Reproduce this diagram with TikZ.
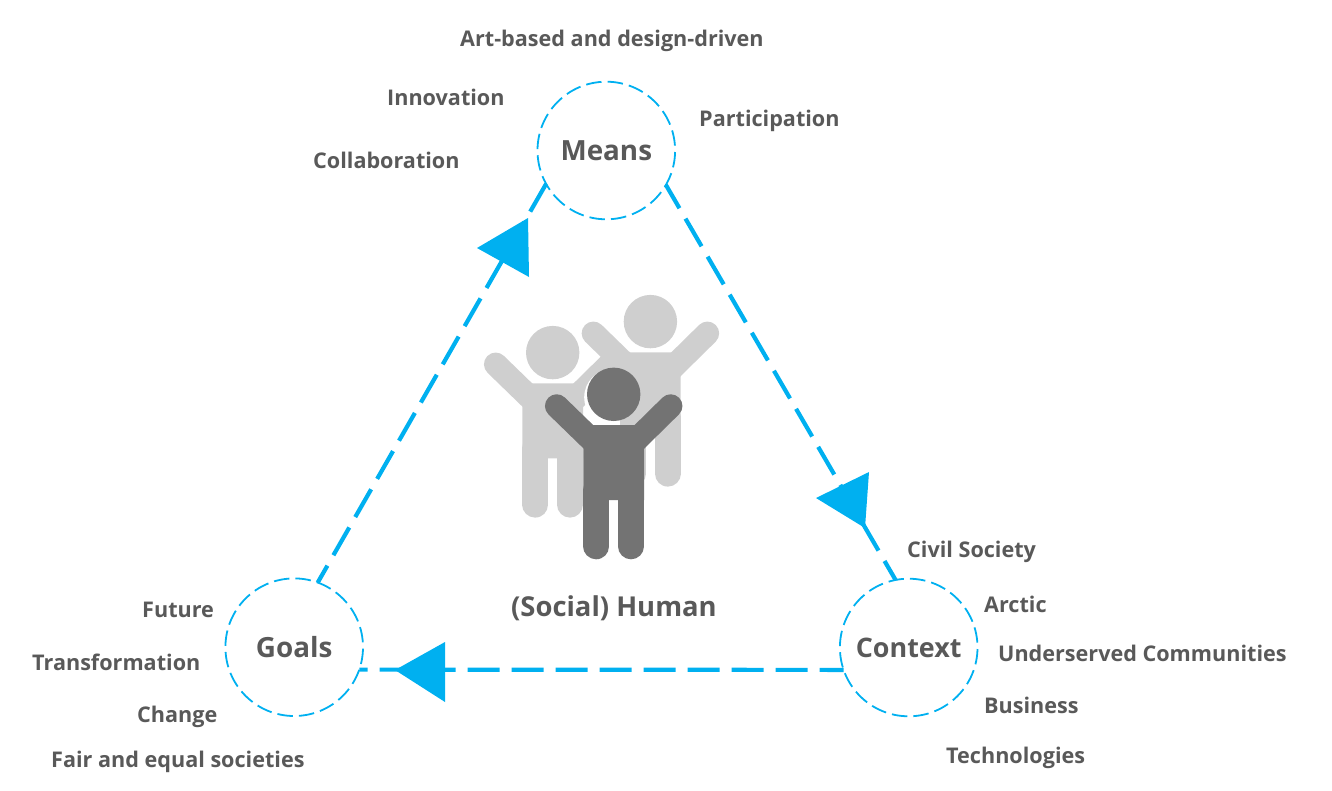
\documentclass[tikz,border=0pt]{standalone}
\usepackage{fontspec}
\setmainfont{Open Sans}
\definecolor{cblue}{HTML}{00B0F0}
\definecolor{ctext}{HTML}{595959}
\definecolor{plight}{HTML}{CFCFCF}
\definecolor{pdark}{HTML}{737373}
\newcommand{\person}[3]{%
 \begin{scope}[shift={(#1,#2)}]
  \fill[#3] (613.7,394.3) circle (26.7);
  \fill[#3] (591,425) -- (636,425) -- (644,448) -- (644,500) -- (583.3,500) -- (583.3,448) -- cycle;
  \draw[#3,line width=23.5pt,line cap=round] (556.7,406) -- (602,450);
  \draw[#3,line width=23.5pt,line cap=round] (670.7,406) -- (626,450);
  \draw[#3,line width=26pt,line cap=round] (596.3,490) -- (596.3,546.3);
  \draw[#3,line width=26pt,line cap=round] (631,490) -- (631,546.3);
 \end{scope}}
\tikzset{
 hub/.style={circle,draw=cblue,line width=1.8pt,dash pattern=on 15.5pt off 6.1pt,dash phase=16.7pt,minimum size=137.6pt,inner sep=0pt,outer sep=0pt,
   text=ctext,font=\fontsize{27.8}{32}\selectfont\bfseries},
 lbl/.style={anchor=base west,inner sep=0pt,text=ctext,font=\fontsize{21.6}{26}\selectfont\bfseries},
 link/.style={draw=cblue,line width=4.2pt,dash pattern=on 32pt off 12pt},
 head/.style={fill=cblue}
}
\begin{document}
\begin{tikzpicture}[x=1pt,y=-1pt]
\useasboundingbox (0,0) rectangle (1332,790);
\node[hub] (means) at (606.3,150.5) {Means};
\node[hub] (goals) at (294.2,647.2) {Goals};
\node[hub,font=\fontsize{26.9}{32}\selectfont\bfseries] (context) at (908.7,647.5) {Context};

\draw[link] (means.209.8) -- (goals.70.7);
\draw[link,dash phase=5pt] (means.-30) -- (context.101.5);
\draw[link,dash phase=8pt] (context.199.1) -- (goals.-19.35);

\fill[head] (477,248) -- (528,218) -- (529,277) -- cycle;
\fill[head] (816,498) -- (869,472) -- (865,528) -- cycle;
\fill[head] (395,670) -- (445,642) -- (445,702) -- cycle;

\person{-61}{-41.7}{plight}
\fill[white] (612.7,397.3) circle (28.5);
\person{36.7}{-72.7}{plight}
\person{0}{0}{pdark}

\node[lbl] (l1) at (460,46) {Art-based and design-driven};
\node[lbl] (l2) at (387,105) {Innovation};
\node[lbl] (l3) at (313,168) {Collaboration};
\node[lbl] (l4) at (699,126) {Participation};
\node[lbl] (l5) at (907,557) {Civil Society};
\node[lbl] (l6) at (984,612) {Arctic};
\node[lbl] (l7) at (998,661) {Underserved Communities};
\node[lbl] (l8) at (984,713) {Business};
\node[lbl] (l9) at (946,763) {Technologies};
\node[lbl] (l10) at (142,617) {Future};
\node[lbl] (l11) at (32,670) {Transformation};
\node[lbl] (l12) at (137,722) {Change};
\node[lbl] (l13) at (51,767) {Fair and equal societies};
\node[lbl,font=\fontsize{27.4}{32}\selectfont\bfseries] (human) at (511,616.5) {(Social) Human};
\end{tikzpicture}
\end{document}
